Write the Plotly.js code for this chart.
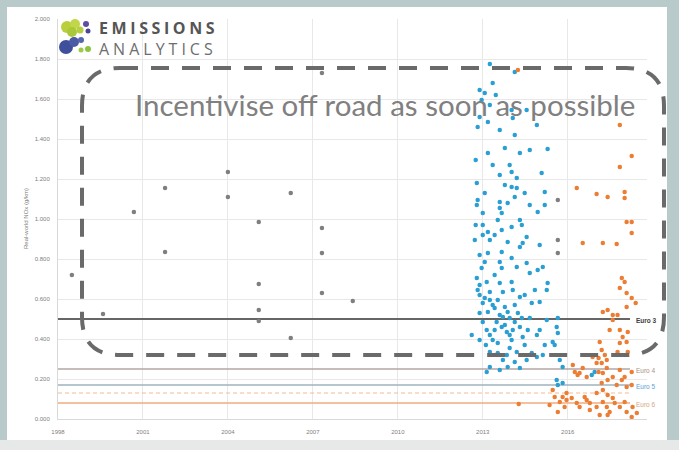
<!DOCTYPE html>
<html><head><meta charset="utf-8">
<script src="https://cdn.plot.ly/plotly-3.0.1.min.js"></script>
<style>
html,body{margin:0;padding:0;background:#b8caca;width:679px;height:450px;overflow:hidden;}
#strip{position:absolute;left:0;top:440px;width:679px;height:10px;background:#e7e9e9;}
#chart{position:absolute;left:7px;top:7px;width:660px;height:433px;}
</style></head>
<body><div id="strip"></div><div id="chart"></div>
<script>
// ---- data ----
const grayYear = [1998.49,1999.59,2000.68,2001.78,2001.78,2004.0,2004.0,2005.09,2005.09,2005.09,2005.09,2006.22,2006.22,2007.32,2007.32,2007.32,2007.32,2008.41,2015.65,2015.65,2015.65];
const grayNOx  = [0.72,0.525,1.035,1.155,0.835,1.235,1.11,0.985,0.675,0.545,0.49,1.13,0.405,1.73,0.955,0.83,0.63,0.59,1.095,0.895,0.83];

const blueYear = [2013.25,2013.35,2012.89,2013.07,2012.96,2013.25,2014.02,2012.89,2013.18,2012.82,2014.06,2014.91,2014.13,2013.18,2013.78,2014.31,2014.66,2015.29,2013.95,2014.02,2013.6,2014.2,2015.08,2012.79,2013.07,2012.82,2012.79,2014.02,2014.2,2014.13,2013.88,2013.6,2013.6,2013.67,2013.53,2015.19,2015.19,2013.0,2013.0,2013.18,2014.31,2014.94,2014.38,2013.0,2013.25,2013.67,2014.02,2014.31,2014.41,2015.01,2012.89,2013.18,2013.07,2013.67,2013.6,2014.02,2013.67,2014.2,2014.55,2014.66,2014.94,2015.12,2012.79,2012.89,2013.14,2013.25,2012.89,2013.0,2013.25,2013.6,2013.71,2014.02,2014.06,2014.31,2014.48,2014.73,2015.01,2015.26,2015.29,2012.89,2013.18,2013.42,2013.6,2013.71,2013.88,2013.95,2013.78,2013.0,2013.14,2013.25,2013.35,2013.53,2013.67,2013.85,2013.95,2014.06,2014.13,2014.31,2014.41,2014.59,2014.91,2015.26,2015.65,2015.61,2015.65,2012.61,2015.47,2015.54,2013.25,2013.53,2013.85,2013.95,2014.2,2014.73,2014.91,2015.12,2013.14,2013.25,2013.88,2014.31,2015.72,2015.82,2015.61,2015.65,2015.82,2016.95,2016.85,
 2012.82,2013.07,2013.35,2013.49,2013.78,2014.02,2014.24,2013.42,2013.11,2013.71,2014.48,2014.66,2014.84,2012.96,2013.42,2013.88,2013.42,2014.55,2012.72,2012.75,2013.78,2013.35,2014.48,2014.66,2012.75,2013.6,2014.55,2013.46,2014.13,2013.53,2014.13,2014.38,2015.01,2015.19,2012.89,2014.55,2013.6,2014.13];
const blueNOx  = [1.775,1.68,1.645,1.63,1.595,1.57,1.545,1.51,1.485,1.46,1.505,1.47,1.42,1.33,1.355,1.33,1.345,1.35,1.27,1.235,1.22,1.205,1.23,1.18,1.13,1.095,1.07,1.16,1.155,1.11,1.08,1.085,1.055,1.03,0.995,1.135,1.07,1.03,0.97,0.935,0.995,1.035,0.97,0.92,0.895,0.945,0.96,0.86,0.88,0.87,0.82,0.83,0.785,0.835,0.785,0.805,0.755,0.76,0.78,0.73,0.745,0.76,0.705,0.67,0.685,0.635,0.62,0.58,0.595,0.68,0.635,0.685,0.645,0.61,0.62,0.58,0.585,0.645,0.68,0.53,0.535,0.555,0.52,0.51,0.535,0.505,0.56,0.485,0.445,0.42,0.395,0.38,0.46,0.435,0.42,0.445,0.485,0.46,0.41,0.445,0.42,0.495,0.505,0.46,0.43,0.42,0.385,0.37,0.335,0.33,0.32,0.355,0.335,0.33,0.31,0.32,0.235,0.26,0.26,0.255,0.295,0.26,0.195,0.17,0.18,0.235,0.22,
 0.645,0.605,0.57,0.485,0.47,0.395,0.53,0.445,0.37,0.295,0.37,0.505,0.645,0.755,0.72,0.885,0.92,0.91,0.895,0.97,1.17,1.27,1.13,1.07,1.295,1.445,1.545,1.62,1.735,0.595,0.57,0.505,0.445,0.37,0.395,0.295,0.245,0.285];

const orangeYear = [2014.24,2017.84,2018.26,2017.84,2016.32,2017.02,2017.41,2018.01,2018.01,2018.26,2018.08,2018.26,2016.53,2017.24,2017.73,2017.91,2018.01,2017.84,2018.08,2018.26,2018.4,2017.24,2017.41,2017.59,2017.59,2017.76,2018.08,2017.48,2017.84,2017.94,2018.12,2018.08,2017.84,2017.13,2017.2,2017.31,2017.38,2017.09,2017.2,2016.88,2017.76,2018.12,2016.18,2016.42,2016.53,2016.67,2017.02,2017.09,2017.24,2017.38,2017.41,2017.59,2017.84,2017.91,2018.01,2018.08,2018.26,2016.25,2016.35,2017.2,2017.24,2017.41,2017.73,2018.26,2015.47,2015.54,2015.72,2015.82,2015.96,2015.89,2015.96,2016.14,2016.32,2016.42,2016.67,2017.02,2017.24,2017.38,2017.59,2017.84,2018.01,2018.08,2018.29,2018.26,2016.78,2017.13,2017.48,2016.6,2016.78,2017.02,2017.41,2017.66,2018.44,2015.36,2015.65,2014.27];
const orangeNOx  = [1.745,1.47,1.315,1.26,1.155,1.125,1.11,1.135,1.105,0.985,0.985,0.93,0.88,0.88,0.875,0.705,0.685,0.655,0.63,0.605,0.58,0.535,0.545,0.52,0.495,0.52,0.56,0.445,0.445,0.41,0.435,0.385,0.38,0.385,0.345,0.32,0.295,0.305,0.28,0.31,0.335,0.335,0.27,0.23,0.255,0.21,0.28,0.235,0.23,0.255,0.195,0.21,0.245,0.195,0.21,0.16,0.17,0.235,0.22,0.18,0.145,0.12,0.17,0.235,0.145,0.11,0.085,0.11,0.095,0.06,0.13,0.105,0.08,0.06,0.095,0.13,0.085,0.06,0.105,0.06,0.085,0.035,0.06,0.01,0.045,0.02,0.035,0.11,0.08,0.06,0.02,0.08,0.03,0.07,0.035,0.075];

const limitNames  = ['Euro 3','Euro 4','Euro 5','','Euro 6'];
const limitValues = [0.50,0.25,0.17,0.13,0.08];
const limitStart = 1998, limitEnd = 2018.2;

const xTickVals = [1998,2001,2004,2007,2010,2013,2016];
const yTickVals = [0,0.2,0.4,0.6,0.8,1.0,1.2,1.4,1.6,1.8,2.0];

const titleText = 'Incentivise off road as soon as possible';
const yTitle = 'Real-world NOx (g/km)';
const logoLines = ['EMISSIONS','ANALYTICS'];

// ---- styling ----
const lineStyles = [
  {color:'#666666', width:2, dash:'solid'},
  {color:'#b3a6a6', width:1.5, dash:'solid'},
  {color:'#9fb2bd', width:1.5, dash:'solid'},
  {color:'#f3bb93', width:1.2, dash:'4px,3px'},
  {color:'#f2ab7c', width:1.5, dash:'solid'}
];
const labelStyles = [
  {color:'#404040', text:'<b>'+limitNames[0]+'</b>'},
  {color:'#a89384', text:limitNames[1]},
  {color:'#5aa3d8', text:limitNames[2]},
  null,
  {color:'#d9a682', text:limitNames[4]}
];

// pixel -> paper helpers (plot area: x 58..647, y 19..419 in window pixels)
const PL=58, PR=647, PT=19, PB=419;
const px = x => (x-PL)/(PR-PL);
const py = y => (PB-y)/(PB-PT);

const traces = [];
limitValues.forEach((v,i)=>{
  traces.push({x:[limitStart,limitEnd], y:[v,v], mode:'lines', type:'scatter',
    line:lineStyles[i], hoverinfo:'skip', showlegend:false});
});
traces.push({x:grayYear, y:grayNOx, mode:'markers', type:'scatter', marker:{color:'#7f7f7f', size:4.5}, showlegend:false});
traces.push({x:blueYear, y:blueNOx, mode:'markers', type:'scatter', marker:{color:'#2a9fd4', size:4.5}, showlegend:false});
traces.push({x:orangeYear, y:orangeNOx, mode:'markers', type:'scatter', marker:{color:'#ec7d33', size:4.5}, showlegend:false});

const annotations = [];
limitValues.forEach((v,i)=>{
  if(!labelStyles[i]) return;
  annotations.push({x:limitEnd, y:v-0.005, xref:'x', yref:'y', xanchor:'left', yanchor:'middle',
    xshift:4, text:labelStyles[i].text, showarrow:false,
    font:{family:'Liberation Sans, Arial', size:6.5, color:labelStyles[i].color}});
});
annotations.push({x:px(133), y:py(104), xref:'paper', yref:'paper', xanchor:'left', yanchor:'middle',
  text:titleText, showarrow:false, font:{family:'Lato, Open Sans, sans-serif', size:29.5, color:'#808080'}});
annotations.push({x:px(97), y:py(38.5), xref:'paper', yref:'paper', xanchor:'left', yanchor:'middle', align:'left',
  text:'<span style="letter-spacing:3.6px"><b>'+logoLines[0]+'</b></span><br><span style="color:#6e6e6e;letter-spacing:4px">'+logoLines[1]+'</span>', showarrow:false,
  font:{family:'Open Sans, sans-serif', size:16, color:'#555555'}});
annotations.push({x:px(26), y:0.5, xref:'paper', yref:'paper', xanchor:'center', yanchor:'middle', textangle:-90,
  text:yTitle, showarrow:false, font:{family:'Liberation Sans, Arial', size:6, color:'#808080'}});

// rounded dashed frame
const x0=px(82), x1=px(664), y1=py(68), y0=py(355);
const rx=38/(PR-PL), ry=38/(PB-PT);
const framePath = `M ${x0+rx} ${y1} L ${x1-rx} ${y1} Q ${x1} ${y1} ${x1} ${y1-ry} L ${x1} ${y0+ry} Q ${x1} ${y0} ${x1-rx} ${y0} L ${x0+rx} ${y0} Q ${x0} ${y0} ${x0} ${y0+ry} L ${x0} ${y1-ry} Q ${x0} ${y1} ${x0+rx} ${y1} Z`;

const shapes = [{type:'path', xref:'paper', yref:'paper', path:framePath,
  line:{color:'#6a6a6a', width:4, dash:'18px,13px'}, layer:'above'}];

// logo circles [cx, cy, r, colour] in window pixels
const logo = [
  [67,27,6,'#b9cf3c'],[75,24,5,'#c3d64a'],[72,32,5,'#a9c83a'],[80,30,3.5,'#b5cf3f'],
  [86,24,3,'#5d4ea0'],[88,31,2.5,'#4b4596'],
  [66,47,7,'#3e4f9b'],[74,42,5,'#4a5aa6'],[81,40,3,'#5566b0'],
  [88,49,3,'#8cc43f'],[81,50,2.5,'#9ccb4a']
];
logo.forEach(c=>{
  shapes.push({type:'circle', xref:'paper', yref:'paper', x0:px(c[0]-c[2]), x1:px(c[0]+c[2]),
    y0:py(c[1]+c[2]), y1:py(c[1]-c[2]), fillcolor:c[3], line:{width:0}, layer:'above'});
});

const layout = {
  width:660, height:433,
  margin:{l:PL-7, r:667-PR, t:PT-7, b:440-PB, pad:0},
  paper_bgcolor:'#ffffff', plot_bgcolor:'#ffffff',
  xaxis:{range:[1998,2018.8], tickvals:xTickVals, ticktext:xTickVals.map(String),
    showgrid:true, gridcolor:'#e8e8e8', gridwidth:1, zeroline:false,
    showline:true, linecolor:'#d9d9d9', linewidth:1,
    ticks:'outside', ticklen:7, tickcolor:'rgba(0,0,0,0)',
    tickfont:{family:'Liberation Sans, Arial', size:6, color:'#808080'}},
  yaxis:{range:[0,2.0], tickvals:yTickVals, ticktext:yTickVals.map(v=>v.toFixed(3)),
    showgrid:true, gridcolor:'#e8e8e8', gridwidth:1, zeroline:false,
    showline:true, linecolor:'#d9d9d9', linewidth:1,
    ticks:'outside', ticklen:6, tickcolor:'rgba(0,0,0,0)',
    tickfont:{family:'Liberation Sans, Arial', size:6, color:'#808080'}},
  shapes:shapes, annotations:annotations, showlegend:false, hovermode:false
};
Plotly.newPlot('chart', traces, layout, {displayModeBar:false, staticPlot:true});
</script></body></html>
